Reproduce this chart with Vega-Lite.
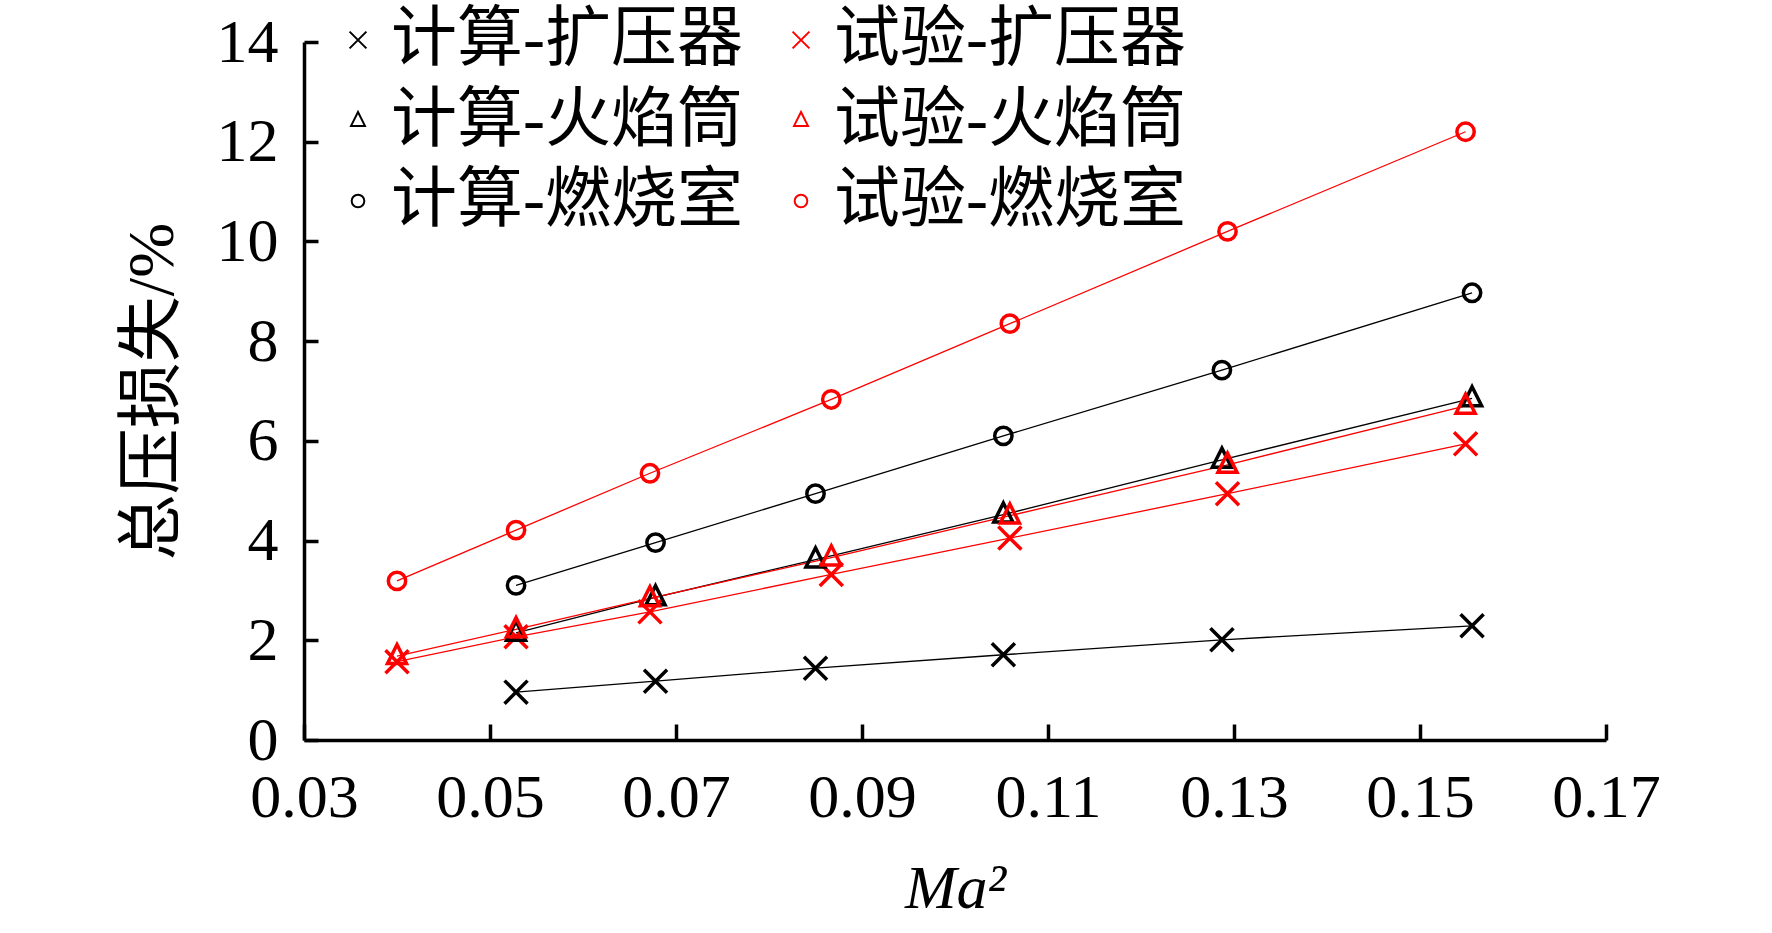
{
  "$schema": "https://vega.github.io/schema/vega-lite/v6.json",
  "width": 1302,
  "height": 698,
  "autosize": {"type": "none"},
  "padding": {"left": 304, "top": 42, "right": 166, "bottom": 193},
  "background": "white",
  "config": {
    "view": {"stroke": null},
    "font": "Liberation Serif, Noto Sans CJK SC"
  },
  "data": {
    "values": [
      {"series": "计算-扩压器", "x": 0.0528, "y": 0.96},
      {"series": "计算-扩压器", "x": 0.0678, "y": 1.18},
      {"series": "计算-扩压器", "x": 0.0850, "y": 1.44},
      {"series": "计算-扩压器", "x": 0.1052, "y": 1.71},
      {"series": "计算-扩压器", "x": 0.1287, "y": 2.01},
      {"series": "计算-扩压器", "x": 0.1556, "y": 2.29},
      {"series": "试验-扩压器", "x": 0.0400, "y": 1.57},
      {"series": "试验-扩压器", "x": 0.0528, "y": 2.07},
      {"series": "试验-扩压器", "x": 0.0672, "y": 2.57},
      {"series": "试验-扩压器", "x": 0.0867, "y": 3.32},
      {"series": "试验-扩压器", "x": 0.1059, "y": 4.05},
      {"series": "试验-扩压器", "x": 0.1293, "y": 4.94},
      {"series": "试验-扩压器", "x": 0.1549, "y": 5.94},
      {"series": "计算-火焰筒", "x": 0.0528, "y": 2.15},
      {"series": "计算-火焰筒", "x": 0.0678, "y": 2.86},
      {"series": "计算-火焰筒", "x": 0.0850, "y": 3.62},
      {"series": "计算-火焰筒", "x": 0.1052, "y": 4.52},
      {"series": "计算-火焰筒", "x": 0.1287, "y": 5.62},
      {"series": "计算-火焰筒", "x": 0.1556, "y": 6.85},
      {"series": "试验-火焰筒", "x": 0.0400, "y": 1.68},
      {"series": "试验-火焰筒", "x": 0.0528, "y": 2.22},
      {"series": "试验-火焰筒", "x": 0.0672, "y": 2.84},
      {"series": "试验-火焰筒", "x": 0.0867, "y": 3.66},
      {"series": "试验-火焰筒", "x": 0.1059, "y": 4.50},
      {"series": "试验-火焰筒", "x": 0.1293, "y": 5.52},
      {"series": "试验-火焰筒", "x": 0.1549, "y": 6.70},
      {"series": "计算-燃烧室", "x": 0.0528, "y": 3.10},
      {"series": "计算-燃烧室", "x": 0.0678, "y": 3.96},
      {"series": "计算-燃烧室", "x": 0.0850, "y": 4.94},
      {"series": "计算-燃烧室", "x": 0.1052, "y": 6.10},
      {"series": "计算-燃烧室", "x": 0.1287, "y": 7.42},
      {"series": "计算-燃烧室", "x": 0.1556, "y": 8.97},
      {"series": "试验-燃烧室", "x": 0.0400, "y": 3.19},
      {"series": "试验-燃烧室", "x": 0.0528, "y": 4.21},
      {"series": "试验-燃烧室", "x": 0.0672, "y": 5.35},
      {"series": "试验-燃烧室", "x": 0.0867, "y": 6.83},
      {"series": "试验-燃烧室", "x": 0.1059, "y": 8.35},
      {"series": "试验-燃烧室", "x": 0.1293, "y": 10.20},
      {"series": "试验-燃烧室", "x": 0.1549, "y": 12.20}
    ]
  },
  "encoding": {
    "x": {
      "field": "x", "type": "quantitative",
      "scale": {"domain": [0.03, 0.17], "nice": false, "zero": false},
      "axis": {
        "title": "Ma²",
        "values": [0.03, 0.05, 0.07, 0.09, 0.11, 0.13, 0.15, 0.17],
        "format": ".2f",
        "grid": false,
        "domainColor": "black", "domainWidth": 3.5,
        "tickColor": "black", "tickWidth": 3.5, "tickSize": -16,
        "labelFont": "Liberation Serif", "labelFontSize": 62, "labelColor": "black",
        "labelPadding": 43, "labelFlush": false,
        "titleFont": "Liberation Serif", "titleFontSize": 62, "titleFontStyle": "italic",
        "titleFontWeight": "normal", "titleColor": "black", "titlePadding": 30
      }
    },
    "y": {
      "field": "y", "type": "quantitative",
      "scale": {"domain": [0, 14], "nice": false},
      "axis": {
        "title": "总压损失/%",
        "values": [0, 2, 4, 6, 8, 10, 12, 14],
        "grid": false,
        "domainColor": "black", "domainWidth": 3.5,
        "tickColor": "black", "tickWidth": 3.5, "tickSize": -14,
        "labelFont": "Liberation Serif", "labelFontSize": 62, "labelColor": "black",
        "labelPadding": 40, "labelFlush": false,
        "titleFont": "Liberation Serif, Noto Sans CJK SC", "titleFontSize": 66,
        "titleFontWeight": "normal", "titleColor": "black", "titlePadding": 30
      }
    }
  },
  "layer": [
    {
      "mark": {"type": "line", "strokeWidth": 1.3},
      "encoding": {
        "detail": {"field": "series", "type": "nominal"},
        "color": {
          "field": "series", "type": "nominal",
          "scale": {
            "domain": ["计算-扩压器", "计算-火焰筒", "计算-燃烧室", "试验-扩压器", "试验-火焰筒", "试验-燃烧室"],
            "range": ["#000000", "#000000", "#000000", "#ff0000", "#ff0000", "#ff0000"]
          }
        },
        "order": {"field": "x"}
      }
    },
    {
      "mark": {"type": "point", "filled": false, "strokeWidth": 3.5, "opacity": 1, "size": 300},
      "encoding": {
        "color": {
          "field": "series", "type": "nominal",
          "scale": {
            "domain": ["计算-扩压器", "计算-火焰筒", "计算-燃烧室", "试验-扩压器", "试验-火焰筒", "试验-燃烧室"],
            "range": ["#000000", "#000000", "#000000", "#ff0000", "#ff0000", "#ff0000"]
          },
          "legend": {
            "title": null,
            "orient": "none",
            "legendX": 21,
            "legendY": -35,
            "columns": 2,
            "columnPadding": 25,
            "rowPadding": 14.5,
            "symbolSize": 160,
            "symbolStrokeWidth": 2,
            "symbolOffset": 0,
            "labelOffset": 0,
            "labelFont": "Liberation Serif, Noto Sans CJK SC",
            "labelFontSize": 66,
            "labelColor": "black",
            "labelLimit": 600
          }
        },
        "shape": {
          "field": "series", "type": "nominal",
          "scale": {
            "domain": ["计算-扩压器", "计算-火焰筒", "计算-燃烧室", "试验-扩压器", "试验-火焰筒", "试验-燃烧室"],
            "range": ["M-1.33,-1.33L1.33,1.33M1.33,-1.33L-1.33,1.33", "M0,-1.35L1.1,0.85L-1.1,0.85Z", "circle", "M-1.33,-1.33L1.33,1.33M1.33,-1.33L-1.33,1.33", "M0,-1.35L1.1,0.85L-1.1,0.85Z", "circle"]
          }
        }
      }
    }
  ]
}
